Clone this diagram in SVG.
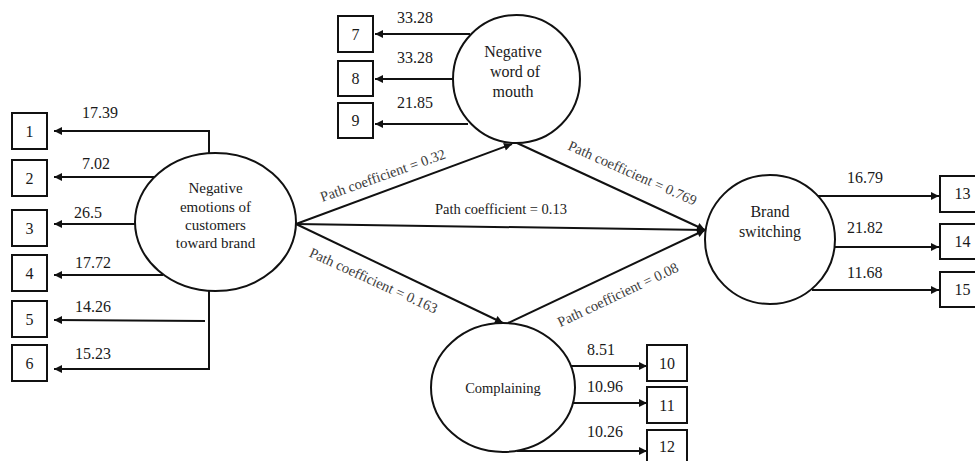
<svg xmlns="http://www.w3.org/2000/svg" width="975" height="461" viewBox="0 0 975 461" font-family="'Liberation Serif', Tinos, 'DejaVu Serif', 'Times New Roman', serif">
<style>
.node{fill:#fff;stroke:#111;stroke-width:2}
.box{fill:#fff;stroke:#111;stroke-width:2}
.c{fill:none;stroke:#111;stroke-width:2}
text{font-family:'Liberation Serif', Tinos, 'DejaVu Serif', 'Times New Roman', serif;fill:#1a1a1a}
.nt{font-size:15px;text-anchor:middle}
.nt16{font-size:16px;text-anchor:middle}
.nts{font-size:14.5px;text-anchor:middle}
.bn{font-size:16px;text-anchor:middle}
.v{font-size:16px}
.pc{font-size:14.5px;text-anchor:middle;fill:#3c3c3c}
.pch{font-size:14.5px;text-anchor:middle;fill:#1a1a1a}
</style>
<defs>
<marker id="ah" viewBox="0 0 10 10" refX="10" refY="5" markerWidth="9" markerHeight="8" markerUnits="userSpaceOnUse" orient="auto"><path d="M0,0 L10,5 L0,10 z" fill="#111"/></marker>
</defs>
<rect width="975" height="461" fill="#fff"/>
<g id="connectors">
<polyline class="c" points="209,153 209,131 54,131" marker-end="url(#ah)"/>
<line class="c" x1="157" y1="177" x2="54" y2="177" marker-end="url(#ah)"/>
<line class="c" x1="135" y1="224" x2="54" y2="224" marker-end="url(#ah)"/>
<line class="c" x1="163" y1="275" x2="54" y2="275" marker-end="url(#ah)"/>
<line class="c" x1="205" y1="321" x2="54" y2="320" marker-end="url(#ah)"/>
<polyline class="c" points="209,291 209,369 54,369" marker-end="url(#ah)"/>
<line class="c" x1="470" y1="34" x2="375" y2="34" marker-end="url(#ah)"/>
<line class="c" x1="453" y1="79" x2="375" y2="79" marker-end="url(#ah)"/>
<line class="c" x1="468" y1="124" x2="375" y2="124" marker-end="url(#ah)"/>
<line class="c" x1="571" y1="366" x2="647" y2="366" marker-end="url(#ah)"/>
<line class="c" x1="573" y1="403" x2="647" y2="403" marker-end="url(#ah)"/>
<line class="c" x1="517" y1="451" x2="647" y2="451" marker-end="url(#ah)"/>
<line class="c" x1="818" y1="196" x2="939" y2="196" marker-end="url(#ah)"/>
<line class="c" x1="835" y1="247" x2="939" y2="247" marker-end="url(#ah)"/>
<line class="c" x1="812" y1="290" x2="939" y2="290" marker-end="url(#ah)"/>
<line class="c" x1="296" y1="224" x2="512" y2="144" marker-end="url(#ah)"/>
<line class="c" x1="296" y1="224" x2="705" y2="230" marker-end="url(#ah)"/>
<line class="c" x1="296" y1="224" x2="503" y2="323" marker-end="url(#ah)"/>
<line class="c" x1="517" y1="143" x2="705" y2="230" marker-end="url(#ah)"/>
<line class="c" x1="508" y1="323" x2="705" y2="230" marker-end="url(#ah)"/>
<text class="v" x="82" y="118">17.39</text>
<text class="v" x="82" y="169">7.02</text>
<text class="v" x="74" y="218">26.5</text>
<text class="v" x="75" y="268">17.72</text>
<text class="v" x="75" y="312">14.26</text>
<text class="v" x="75" y="359">15.23</text>
<text class="v" x="397" y="23">33.28</text>
<text class="v" x="397" y="63">33.28</text>
<text class="v" x="397" y="108">21.85</text>
<text class="v" x="587" y="355">8.51</text>
<text class="v" x="587" y="392">10.96</text>
<text class="v" x="587" y="437">10.26</text>
<text class="v" x="847" y="183">16.79</text>
<text class="v" x="847" y="233">21.82</text>
<text class="v" x="847" y="278">11.68</text>
<text class="pc" transform="translate(384.5,180) rotate(-19.5)">Path coefficient = 0.32</text>
<text class="pch" x="501" y="214">Path coefficient = 0.13</text>
<text class="pc" transform="translate(630.5,177.5) rotate(24)">Path coefficient = 0.769</text>
<text class="pc" transform="translate(371.5,285) rotate(24.5)">Path coefficient = 0.163</text>
<text class="pc" transform="translate(620,299) rotate(-25.3)">Path coefficient = 0.08</text>
</g>
<g id="n-emotions">
<ellipse class="node" cx="215.5" cy="222" rx="80.5" ry="69"/>
<text class="nt" x="215.5" y="193">Negative</text>
<text class="nt" x="215.5" y="211.5">emotions of</text>
<text class="nt" x="215.5" y="230">customers</text>
<text class="nt" x="215.5" y="248">toward brand</text>
</g>
<g id="n-nwom">
<ellipse class="node" cx="516.5" cy="79" rx="63.5" ry="64"/>
<text class="nt16" x="513" y="57">Negative</text>
<text class="nt16" x="515" y="77">word of</text>
<text class="nt16" x="513" y="97">mouth</text>
</g>
<g id="n-complaining">
<ellipse class="node" cx="503" cy="387.5" rx="72" ry="64.5"/>
<text class="nts" x="503" y="393">Complaining</text>
</g>
<g id="n-brand">
<ellipse class="node" cx="770" cy="239.5" rx="65" ry="64.5"/>
<text class="nt16" x="770" y="217">Brand</text>
<text class="nt16" x="770" y="237">switching</text>
</g>
<g id="b1"><rect class="box" x="12" y="113" width="35" height="36"/><text class="bn" x="29.5" y="136.5">1</text></g>
<g id="b2"><rect class="box" x="12" y="160" width="35" height="36"/><text class="bn" x="29.5" y="183.5">2</text></g>
<g id="b3"><rect class="box" x="12" y="210" width="35" height="36"/><text class="bn" x="29.5" y="233.5">3</text></g>
<g id="b4"><rect class="box" x="12" y="255" width="35" height="36"/><text class="bn" x="29.5" y="278.5">4</text></g>
<g id="b5"><rect class="box" x="12" y="301" width="35" height="36"/><text class="bn" x="29.5" y="324.5">5</text></g>
<g id="b6"><rect class="box" x="12" y="345" width="35" height="36"/><text class="bn" x="29.5" y="368.5">6</text></g>
<g id="b7"><rect class="box" x="338" y="16" width="35" height="36"/><text class="bn" x="355.5" y="39.5">7</text></g>
<g id="b8"><rect class="box" x="338" y="61" width="35" height="35"/><text class="bn" x="355.5" y="84">8</text></g>
<g id="b9"><rect class="box" x="338" y="103" width="35" height="35"/><text class="bn" x="355.5" y="126">9</text></g>
<g id="b10"><rect class="box" x="647" y="345" width="40" height="36"/><text class="bn" x="667" y="368.5">10</text></g>
<g id="b11"><rect class="box" x="647" y="387" width="40" height="36"/><text class="bn" x="667" y="410.5">11</text></g>
<g id="b12"><rect class="box" x="647" y="430" width="40" height="36"/><text class="bn" x="667" y="452">12</text></g>
<g id="b13"><rect class="box" x="940" y="176" width="44" height="36"/><text class="bn" x="962.5" y="199">13</text></g>
<g id="b14"><rect class="box" x="940" y="224" width="44" height="35"/><text class="bn" x="962.5" y="246.5">14</text></g>
<g id="b15"><rect class="box" x="940" y="272" width="44" height="35"/><text class="bn" x="962.5" y="294.5">15</text></g>
</svg>
